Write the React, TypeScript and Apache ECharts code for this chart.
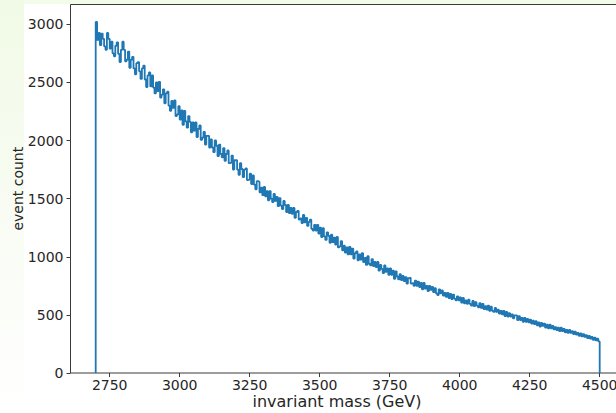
import React, { useEffect, useRef } from "react";
import * as echarts from "echarts";

// Histogram: bins of 5 GeV from 2700 to 4500 GeV
const binStart = 2700;
const binWidth = 5;
const counts: number[] = [
  3020, 2865, 2925, 2820, 2920, 2875, 2810, 2780, 2925, 2875,
  2790, 2850, 2750, 2725, 2815, 2845, 2745, 2675, 2780, 2850,
  2780, 2680, 2695, 2765, 2625, 2695, 2720, 2620, 2570, 2665,
  2675, 2595, 2530, 2620, 2645, 2525, 2460, 2560, 2585, 2465,
  2560, 2455, 2405, 2500, 2425, 2505, 2370, 2395, 2440, 2320,
  2405, 2420, 2300, 2255, 2340, 2280, 2345, 2210, 2225, 2295,
  2180, 2260, 2135, 2255, 2165, 2110, 2210, 2160, 2070, 2155,
  2085, 2155, 2030, 2100, 2130, 2005, 2025, 2075, 1965, 2040,
  2040, 1940, 2010, 1940, 1900, 2000, 1955, 1865, 1965, 1885,
  1855, 1935, 1825, 1885, 1915, 1805, 1810, 1870, 1750, 1830,
  1830, 1750, 1705, 1805, 1755, 1685, 1750, 1760, 1660, 1665,
  1715, 1625, 1700, 1620, 1580, 1650, 1645, 1555, 1595, 1530,
  1600, 1520, 1565, 1485, 1565, 1500, 1470, 1540, 1480, 1515,
  1435, 1505, 1440, 1410, 1480, 1445, 1385, 1445, 1375, 1420,
  1370, 1420, 1335, 1385, 1395, 1320, 1330, 1290, 1360, 1295,
  1335, 1265, 1300, 1320, 1240, 1225, 1275, 1225, 1275, 1200,
  1250, 1170, 1245, 1175, 1145, 1210, 1180, 1120, 1190, 1125,
  1165, 1105, 1170, 1080, 1090, 1135, 1055, 1095, 1035, 1080,
  1020, 1085, 1020, 1070, 985, 1030, 1045, 970, 1020, 975,
  1030, 955, 990, 930, 1005, 940, 925, 980, 920, 955,
  910, 955, 880, 930, 895, 860, 925, 870, 900, 845,
  900, 845, 880, 810, 875, 830, 805, 850, 800, 835,
  790, 825, 770, 815, 820, 770, 775, 750, 795, 750,
  785, 740, 775, 720, 775, 725, 750, 705, 750, 715,
  740, 695, 730, 685, 670, 720, 685, 710, 665, 690,
  655, 690, 645, 680, 635, 675, 640, 625, 660, 625,
  650, 605, 645, 600, 625, 595, 630, 595, 580, 620,
  575, 610, 580, 565, 600, 560, 595, 550, 575, 545,
  580, 535, 570, 535, 525, 560, 525, 545, 510, 535,
  505, 535, 490, 525, 485, 515, 485, 505, 470, 495,
  495, 455, 490, 455, 475, 440, 475, 440, 465, 435,
  460, 425, 450, 420, 445, 410, 435, 400, 430, 405,
  425, 390, 415, 385, 415, 385, 405, 375, 395, 370,
  390, 360, 390, 360, 380, 350, 370, 345, 370, 345,
  360, 335, 355, 330, 345, 320, 340, 315, 335, 310,
  325, 300, 320, 295, 310, 285, 305, 280, 295, 272,
];

const xTicks = [2750, 3000, 3250, 3500, 3750, 4000, 4250, 4500];
const yTicks = [0, 500, 1000, 1500, 2000, 2500, 3000];
const xRange = [2610, 4590];
const yRange = [0, 3170];
const xTitle = "invariant mass (GeV)";
const yTitle = "event count";

function stepPoints(): number[][] {
  const pts: number[][] = [[binStart, 0]];
  counts.forEach((c, i) => {
    const e0 = binStart + i * binWidth;
    pts.push([e0, c]);
    pts.push([e0 + binWidth, c]);
  });
  pts.push([binStart + counts.length * binWidth, 0]);
  return pts;
}

export default function App() {
  const ref = useRef<HTMLDivElement>(null);
  useEffect(() => {
    if (!ref.current) return;
    const chart = echarts.init(ref.current, null, { renderer: "svg" });
    const tickColor = "#262626";
    const plain = (v: number) => String(v);
    chart.setOption({
      animation: false,
      backgroundColor: "#ffffff",
      grid: {
        left: 70.5,
        top: 4.5,
        width: 554.4,
        height: 368.5,
        show: true,
        borderColor: "#3a3a3a",
        borderWidth: 1,
        backgroundColor: "#ffffff",
      },
      xAxis: {
        type: "value",
        min: xRange[0],
        max: xRange[1],
        axisLine: { show: false },
        splitLine: { show: false },
        axisTick: {
          show: true,
          inside: false,
          length: 4,
          customValues: xTicks,
          lineStyle: { color: "#3a3a3a", width: 1 },
        },
        axisLabel: {
          customValues: xTicks,
          formatter: plain,
          margin: 5,
          color: tickColor,
          fontFamily: "DejaVu Sans",
          fontSize: 14,
        },
      },
      yAxis: {
        type: "value",
        min: yRange[0],
        max: yRange[1],
        axisLine: { show: false },
        splitLine: { show: false },
        axisTick: {
          show: true,
          inside: false,
          length: 4,
          customValues: yTicks,
          lineStyle: { color: "#3a3a3a", width: 1 },
        },
        axisLabel: {
          customValues: yTicks,
          formatter: plain,
          margin: 7,
          color: tickColor,
          fontFamily: "DejaVu Sans",
          fontSize: 14,
        },
      },
      graphic: [
        {
          type: "rect",
          silent: true,
          z: -10,
          shape: { x: 0, y: 0, width: 640, height: 4 },
          style: { fill: "#f3fbea" },
        },
        {
          type: "rect",
          silent: true,
          z: -10,
          shape: { x: 0, y: 0, width: 24, height: 413 },
          style: {
            fill: new echarts.graphic.LinearGradient(0, 0, 0, 1, [
              { offset: 0, color: "#f1fae6" },
              { offset: 0.5, color: "#f8fcf3" },
              { offset: 1, color: "#ffffff" },
            ]),
          },
        },
        {
          type: "text",
          x: 337,
          y: 401.5,
          style: {
            text: xTitle,
            fontFamily: "DejaVu Sans",
            fontSize: 16,
            fill: tickColor,
            align: "center",
            verticalAlign: "middle",
          },
        },
        {
          type: "text",
          x: 18,
          y: 188.7,
          rotation: Math.PI / 2,
          style: {
            text: yTitle,
            fontFamily: "DejaVu Sans",
            fontSize: 14,
            fill: tickColor,
            align: "center",
            verticalAlign: "middle",
          },
        },
      ],
      series: [
        {
          type: "line",
          data: stepPoints(),
          showSymbol: false,
          symbol: "none",
          clip: true,
          lineStyle: { color: "#1f77b4", width: 1.8 },
        },
      ],
    });
    return () => chart.dispose();
  }, []);
  return (
    <div
      ref={ref}
      style={{ position: "fixed", left: 0, top: 0, width: 640, height: 413 }}
    />
  );
}
